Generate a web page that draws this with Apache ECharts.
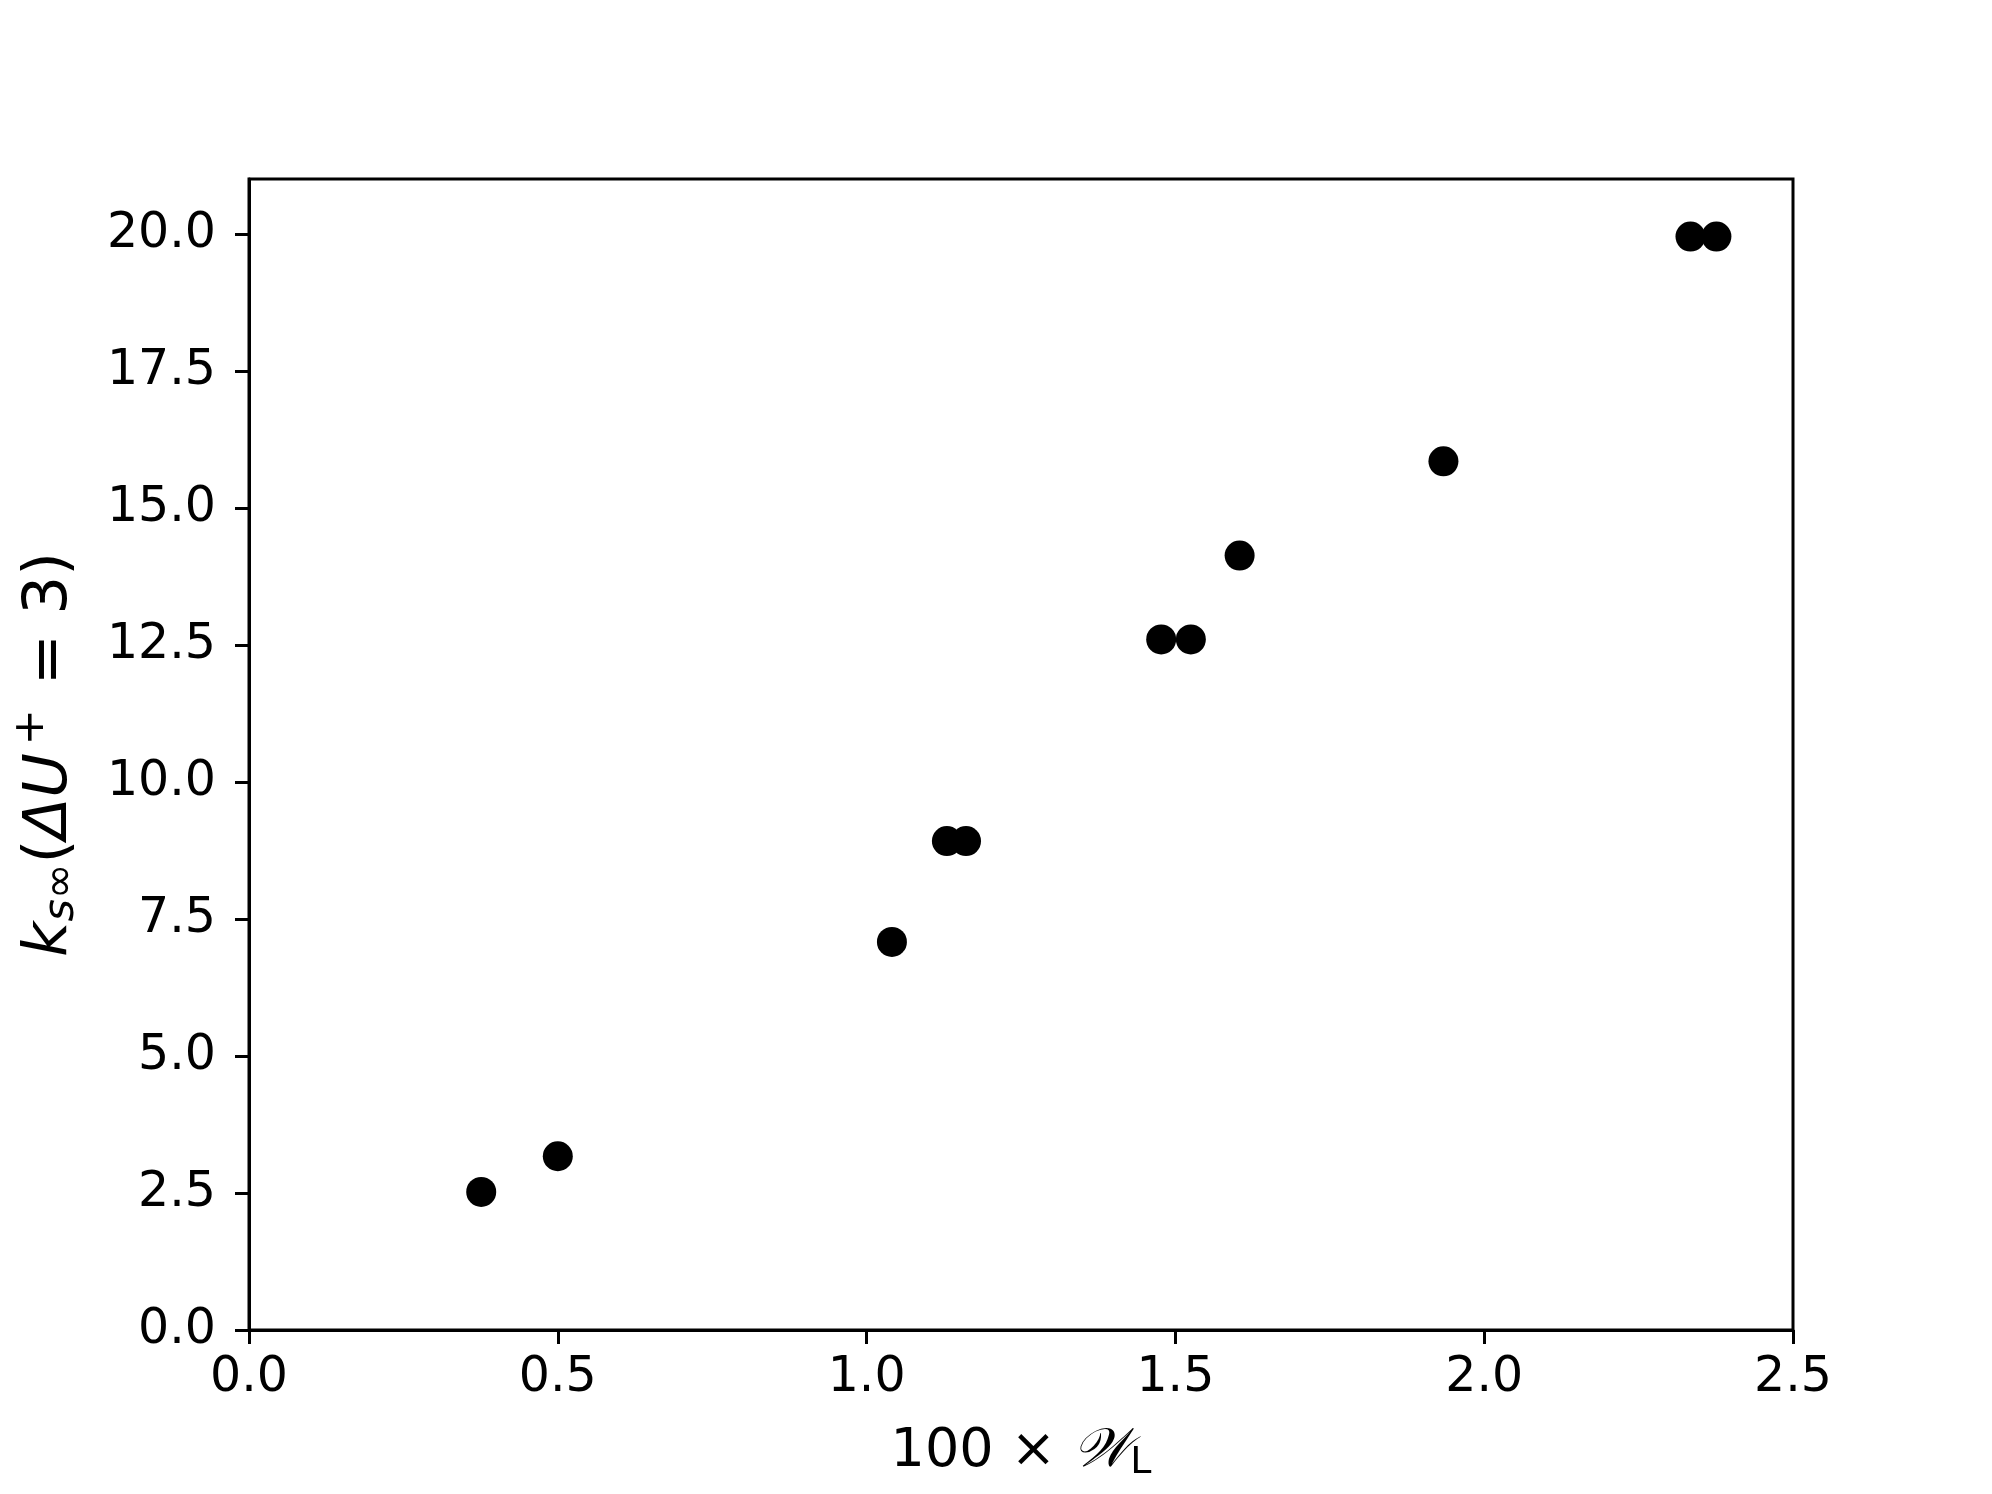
<!DOCTYPE html>
<html>
<head>
<meta charset="utf-8">
<script src="https://cdn.jsdelivr.net/npm/echarts@6/dist/echarts.min.js"></script>
<style>
  html, body { margin: 0; padding: 0; background: #fff; }
  #chart { width: 1992px; height: 1494px; }
</style>
</head>
<body>
<div id="chart"></div>
<script>
// values
const xValues = [0.376, 0.500, 1.041, 1.130, 1.161, 1.477, 1.525, 1.604, 1.934, 2.334, 2.376]
const yValues = [2.52, 3.17, 7.08, 8.92, 8.92, 12.60, 12.60, 14.13, 15.85, 19.95, 19.95]
const xTicks = [0, 0.5, 1.0, 1.5, 2.0, 2.5]
const yTicks = [0, 2.5, 5, 7.5, 10, 12.5, 15, 17.5, 20]

const font = 'DejaVu Sans'
const ink = '#000'

const chart = echarts.init(document.getElementById('chart'), null, { renderer: 'canvas' })

const points = xValues.map((x, i) => [x, yValues[i]])

const axisCommon = {
  axisLine: { show: true, lineStyle: { color: ink, width: 3 } },
  axisTick: { show: true, length: 14, lineStyle: { color: ink, width: 3 } },
  splitLine: { show: false },
}

chart.setOption({
  backgroundColor: '#fff',
  animation: false,
  grid: {
    left: 249, right: 199, top: 179, bottom: 164,
    show: true, borderColor: ink, borderWidth: 3, backgroundColor: 'transparent',
  },
  xAxis: {
    type: 'value',
    min: 0, max: 2.5, interval: 0.5,
    ...axisCommon,
    axisTick: { ...axisCommon.axisTick, customValues: xTicks },
    axisLabel: {
      customValues: xTicks,
      formatter: (v) => v.toFixed(1),
      fontFamily: font, fontSize: 49, color: ink, margin: 24,
    },
    name: '{n|100 × }{w|𝒲}{s|L}',
    nameLocation: 'middle',
    nameGap: 92,
    nameTextStyle: {
      rich: {
        n: { fontFamily: font, fontSize: 54, color: ink },
        w: { fontFamily: 'DejaVu Serif', fontStyle: 'italic', fontSize: 54, color: ink },
        s: { fontFamily: font, fontSize: 38, color: ink, padding: [22, 0, 0, 0] },
      },
    },
  },
  yAxis: {
    type: 'value',
    min: 0, max: 21, interval: 2.5,
    ...axisCommon,
    axisTick: { ...axisCommon.axisTick, customValues: yTicks },
    axisLabel: {
      customValues: yTicks,
      formatter: (v) => v.toFixed(1),
      fontFamily: font, fontSize: 49, color: ink, margin: 33,
    },
    name: '{i|k}{si|s}{s|∞}{n|(}{i|ΔU}{p|+}{n|= 3)}',
    nameLocation: 'middle',
    nameRotate: 90,
    nameGap: 158,
    nameTextStyle: {
      rich: {
        n: { fontFamily: font, fontSize: 61, color: ink },
        i: { fontFamily: font, fontStyle: 'italic', fontSize: 61, color: ink },
        si: { fontFamily: font, fontStyle: 'italic', fontSize: 43, color: ink, padding: [22, 0, 0, 0] },
        s: { fontFamily: font, fontSize: 43, color: ink, padding: [22, 0, 0, 0] },
        p: { fontFamily: font, fontSize: 43, color: ink, padding: [0, 24, 38, 8] },
      },
    },
  },
  series: [
    {
      type: 'scatter',
      data: points,
      symbol: 'circle',
      symbolSize: 30,
      itemStyle: { color: ink, opacity: 1 },
      emphasis: { disabled: true },
    },
  ],
})
</script>
</body>
</html>
